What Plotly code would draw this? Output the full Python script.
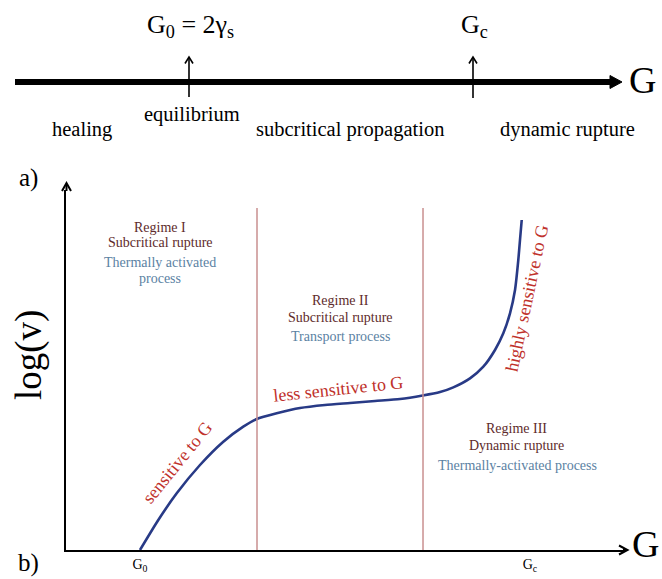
import plotly.graph_objects as go

W, H = 662, 579
SERIF = "Liberation Serif, Times New Roman, serif"

# ---- data (schematic, arbitrary units) ----
curve_G = [13.26, 16.54, 19.84, 24.01, 28.19, 31.77, 34.18, 37.76, 41.94, 46.42, 50.90,
           55.38, 59.86, 63.92, 67.03, 69.41, 72.40, 74.79, 76.88, 78.37, 79.57, 80.47,
           81.06, 81.36, 81.67]
curve_logv = [0.0, 8.33, 15.75, 23.61, 30.08, 34.25, 36.39, 37.97, 39.44, 40.28, 40.83,
              41.39, 41.94, 42.92, 43.89, 45.19, 47.69, 50.92, 55.56, 60.19, 65.75, 72.22,
              80.56, 86.11, 91.67]
regime_bounds = [34.23, 63.98]
bound_top = 95
tick_G = [13.26, 83.15]
tick_labels = ["G<sub>0</sub>", "G<sub>c</sub>"]


def px(x):
    return x / W


def py(y):
    return 1 - y / H


fig = go.Figure()

fig.add_trace(go.Scatter(x=curve_G, y=curve_logv, mode="lines",
                         line=dict(color="#283a86", width=2.6, shape="spline", smoothing=0.6),
                         hoverinfo="skip", showlegend=False))
for b in regime_bounds:
    fig.add_trace(go.Scatter(x=[b, b], y=[0, bound_top], mode="lines",
                             line=dict(color="#c98f8f", width=1.5),
                             hoverinfo="skip", showlegend=False))

ann = []
shapes = []


def text(x, y, s, size, color="black", angle=0, xanchor="center"):
    ann.append(dict(x=px(x), y=py(y), xref="paper", yref="paper", text=s,
                    showarrow=False, textangle=angle, xanchor=xanchor, yanchor="middle",
                    font=dict(family=SERIF, size=size, color=color)))


def seg(x0, y0, x1, y1, width):
    shapes.append(dict(type="line", xref="paper", yref="paper",
                       x0=px(x0), y0=py(y0), x1=px(x1), y1=py(y1),
                       line=dict(color="black", width=width)))


def path(points, width, fill=False):
    d = "M " + " L ".join(f"{px(x):.5f},{py(y):.5f}" for x, y in points)
    if fill:
        d += " Z"
    shapes.append(dict(type="path", xref="paper", yref="paper", path=d,
                       line=dict(color="black", width=width),
                       fillcolor="black" if fill else "rgba(0,0,0,0)"))


# ---- panel a ----
seg(15, 82, 614, 82, 6)
path([(610, 75.5), (622, 82), (610, 88.5)], 1, fill=True)
seg(189, 97, 189, 58, 1.6)
path([(185, 63.5), (189, 57), (193, 63.5)], 1.6)
seg(473, 98, 473, 58, 1.6)
path([(469, 63.5), (473, 57), (477, 63.5)], 1.6)
text(190, 26, "G<sub>0</sub> = 2γ<sub>s</sub>", 26)
text(474, 26, "G<sub>c</sub>", 26)
text(642, 80, "G", 38)
text(192, 114, "equilibrium", 20.5)
text(82, 129, "healing", 20.5)
text(350, 129, "subcritical propagation", 20.5)
text(567, 129, "dynamic rupture", 20.5)
text(28, 178, "a)", 25)

# ---- panel b (axis arrow tips) ----
seg(66.5, 191, 66.5, 184, 2)
path([(62, 191), (66.5, 183), (71, 191)], 2)
seg(623, 550, 627, 550, 2)
path([(619, 545.5), (627.5, 550), (619, 554.5)], 2)
text(645, 544, "G", 38)
text(28, 563, "b)", 25)
text(29, 355, "log(v)", 37, angle=-90)

brown = "#5e2b2b"
blue = "#5b82a3"
fs = 14
text(160, 227, "Regime I", fs, brown)
text(160, 243, "Subcritical rupture", fs, brown)
text(160, 262, "Thermally activated", fs, blue)
text(160, 278, "process", fs, blue)

text(340, 300, "Regime II", fs, brown)
text(340, 317, "Subcritical rupture", fs, brown)
text(340, 336, "Transport process", fs, blue)

text(516, 428, "Regime III", fs, brown)
text(516, 445, "Dynamic rupture", fs, brown)
text(517, 465, "Thermally-activated process", fs, blue)

red = "#c0312b"
text(177, 463, "sensitive to G", 18, red, angle=-51)
text(338, 389, "less sensitive to G", 18, red, angle=-6)
text(527, 298, "highly sensitive to G", 18, red, angle=-78)

fig.update_layout(
    width=W, height=H,
    margin=dict(l=0, r=0, t=0, b=0),
    paper_bgcolor="white", plot_bgcolor="white",
    annotations=ann, shapes=shapes,
    xaxis=dict(domain=[px(66), px(624)], range=[0, 100], showgrid=False, zeroline=False,
               showline=True, linecolor="black", linewidth=2,
               tickvals=tick_G, ticktext=tick_labels, ticks="",
               tickfont=dict(family=SERIF, size=14, color="black")),
    yaxis=dict(domain=[py(550), py(190)], range=[0, 100], showgrid=False, zeroline=False,
               showline=True, linecolor="black", linewidth=2, showticklabels=False, ticks=""),
)

fig.write_html("out.html", config={"displayModeBar": False},
               post_script="document.body.style.margin='0';")
